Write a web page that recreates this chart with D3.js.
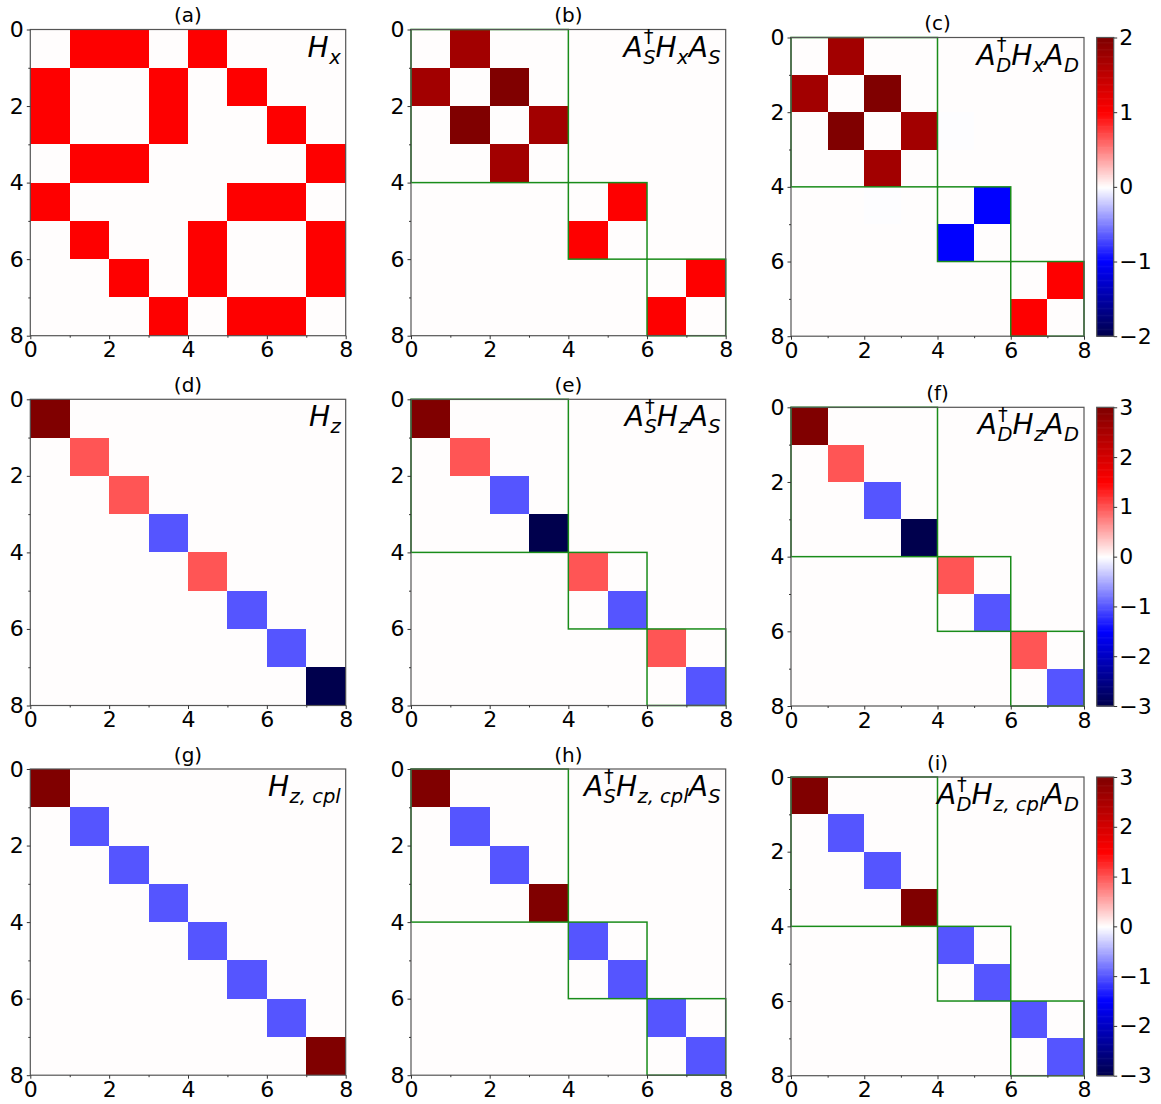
<!DOCTYPE html>
<html>
<head>
<meta charset="utf-8">
<script src="https://cdn.jsdelivr.net/npm/d3@7"></script>
<style>
  body { margin: 0; background: #fff; }
  text { font-family: "DejaVu Sans", sans-serif; fill: #000; }
</style>
</head>
<body>
<svg id="fig" width="1161" height="1104"></svg>
<script>
// matrices (row i, column j)
var hx = [
  [0,1,1,0,1,0,0,0],
  [1,0,0,1,0,1,0,0],
  [1,0,0,1,0,0,1,0],
  [0,1,1,0,0,0,0,1],
  [1,0,0,0,0,1,1,0],
  [0,1,0,0,1,0,0,1],
  [0,0,1,0,1,0,0,1],
  [0,0,0,1,0,1,1,0]
];
var hxS = [
  [0,1.732,0,0,0,0,0,0],
  [1.732,0,2,0,0,0,0,0],
  [0,2,0,1.732,0,0,0,0],
  [0,0,1.732,0,0,0,0,0],
  [0,0,0,0,0,1,0,0],
  [0,0,0,0,1,0,0,0],
  [0,0,0,0,0,0,0,1],
  [0,0,0,0,0,0,1,0]
];
var hxD = [
  [0,1.732,0,0,0,0,0,0],
  [1.732,0,2,0,0,0,0,0],
  [0,2,0,1.732,-0.005,0,0,0],
  [0,0,1.732,0,0,0,0,0],
  [0,0,-0.005,0,0,-1,0,0],
  [0,0,0,0,-1,0,0,0],
  [0,0,0,0,0,0,0,1],
  [0,0,0,0,0,0,1,0]
];
// diagonal-only matrices
var hzDiag   = [3, 1, 1, -1, 1, -1, -1, -3];
var hzSDiag  = [3, 1, -1, -3, 1, -1, 1, -1];
var hzDDiag  = [3, 1, -1, -3, 1, -1, 1, -1];
var hzcDiag  = [3, -1, -1, -1, -1, -1, -1, 3];
var hzcSDiag = [3, -1, -1, 3, -1, -1, -1, -1];
var hzcDDiag = [3, -1, -1, 3, -1, -1, -1, -1];

var blocks = [[0,4],[4,6],[6,8]];
var majorTicks = [0,2,4,6,8];
var minorTicks = [1,3,5,7];
var cbTicksX = [-2,-1,0,1,2];
var cbTicksZ = [-3,-2,-1,0,1,2,3];
var titles = ["(a)","(b)","(c)","(d)","(e)","(f)","(g)","(h)","(i)"];
// label tokens: [base, subscript, superscript]
var labels = [
  [["H","x"]],
  [["A","S","\u2020"],["H","x"],["A","S"]],
  [["A","D","\u2020"],["H","x"],["A","D"]],
  [["H","z"]],
  [["A","S","\u2020"],["H","z"],["A","S"]],
  [["A","D","\u2020"],["H","z"],["A","D"]],
  [["H","z, cpl"]],
  [["A","S","\u2020"],["H","z, cpl"],["A","S"]],
  [["A","D","\u2020"],["H","z, cpl"],["A","D"]]
];

function diag(d) {
  return d.map((v, i) => d.map((_, j) => i === j ? v : 0));
}

var mats = [hx, hxS, hxD, diag(hzDiag), diag(hzSDiag), diag(hzDDiag),
            diag(hzcDiag), diag(hzcSDiag), diag(hzcDDiag)];
var limits = [2, 3, 3];

// seismic colormap, 256 levels like matplotlib
var seis = d3.scaleLinear()
  .domain([0, 0.25, 0.5, 0.75, 1])
  .range(["#00004d", "#0000ff", "#ffffff", "#ff0000", "#800000"]);
function colorOf(v, lim) {
  var idx = Math.floor((v + lim) / (2 * lim) * 256);
  idx = Math.max(0, Math.min(255, idx));
  return seis(idx / 255);
}

var svg = d3.select("#fig");
var COLS = [{x: 30.3, w: 315.4}, {x: 411, w: 314.7}, {x: 791, w: 293}];
var ROWS = [29.5, 399.3, 769];
var PH = 306.2;
var TICK_FS = 22, LAB_FS = 28, SUB_FS = 19.5, TITLE_FS = 20;

// measure a string at a given size/style
function measure(str, size, italic) {
  var t = svg.append("text").attr("font-size", size)
    .attr("font-style", italic ? "italic" : "normal").text(str);
  var w = t.node().getComputedTextLength();
  t.remove();
  return w;
}

// math-like label as one text with positioned tspans, right aligned
function drawLabel(g, tokens, xRight, yBase) {
  var parts = [];
  var x = 0;
  tokens.forEach(function(tk) {
    parts.push({s: tk[0], x: x, dy: 0, fs: LAB_FS, it: true});
    x += measure(tk[0], LAB_FS, true);
    var ws = 0, wp = 0;
    if (tk[1]) {
      parts.push({s: tk[1], x: x + 0.5, dy: 7, fs: SUB_FS, it: true});
      ws = measure(tk[1], SUB_FS, true) + 0.5;
    }
    if (tk[2]) {
      parts.push({s: tk[2], x: x + 1, dy: -13.5, fs: SUB_FS, it: false});
      wp = measure(tk[2], SUB_FS, false) + 1;
    }
    x += Math.max(ws, wp);
  });
  var off = xRight - x;
  g.append("text").selectAll("tspan").data(parts).enter().append("tspan")
    .attr("x", d => off + d.x)
    .attr("y", d => yBase + d.dy)
    .attr("font-size", d => d.fs)
    .attr("font-style", d => d.it ? "italic" : "normal")
    .text(d => d.s);
}

mats.forEach(function(m, k) {
  var r = Math.floor(k / 3), c = k % 3;
  var lim = limits[r];
  var left = COLS[c].x, w = COLS[c].w;
  var top = ROWS[r], h = PH;
  if (c === 2) { top += 8; h = PH - 7.5; }

  var x = d3.scaleLinear().domain([0, 8]).range([0, w]);
  var y = d3.scaleLinear().domain([0, 8]).range([0, h]);

  var g = svg.append("g").attr("transform", "translate(" + left + "," + top + ")");

  var cells = [];
  m.forEach((row, i) => row.forEach((v, j) => cells.push({i: i, j: j, v: v})));
  g.selectAll("rect.cell").data(cells).enter().append("rect")
    .attr("class", "cell")
    .attr("x", d => x(d.j))
    .attr("y", d => y(d.i))
    .attr("width", d => x(d.j + 1) - x(d.j))
    .attr("height", d => y(d.i + 1) - y(d.i))
    .attr("fill", d => colorOf(d.v, lim))
    .attr("shape-rendering", "crispEdges");

  if (c > 0) {
    g.selectAll("rect.blk").data(blocks).enter().append("rect")
      .attr("class", "blk")
      .attr("x", d => x(d[0]))
      .attr("y", d => y(d[0]))
      .attr("width", d => x(d[1]) - x(d[0]))
      .attr("height", d => y(d[1]) - y(d[0]))
      .attr("fill", "none")
      .attr("stroke", "#1a8c1a")
      .attr("stroke-width", 1.5);
  }

  // frame
  g.append("rect").attr("width", w).attr("height", h)
    .attr("fill", "none").attr("stroke", "#555").attr("stroke-width", 1.2);

  var ax = g.append("g").attr("transform", "translate(0," + h + ")")
    .call(d3.axisBottom(x).tickValues(majorTicks).tickSize(3.5).tickPadding(2.5));
  var axm = g.append("g").attr("transform", "translate(0," + h + ")")
    .call(d3.axisBottom(x).tickValues(minorTicks).tickSize(2).tickFormat(""));
  var ay = g.append("g")
    .call(d3.axisLeft(y).tickValues(majorTicks).tickSize(3.5).tickPadding(3));
  var aym = g.append("g")
    .call(d3.axisLeft(y).tickValues(minorTicks).tickSize(2).tickFormat(""));
  [ax, axm, ay, aym].forEach(function(a) {
    a.select(".domain").remove();
    a.selectAll("line").attr("stroke", "#333").attr("stroke-width", 1);
    a.selectAll("text").attr("font-size", TICK_FS).attr("font-family", "DejaVu Sans").attr("fill", "#000");
  });

  g.append("text").attr("x", w / 2).attr("y", -7.5)
    .attr("text-anchor", "middle").attr("font-size", TITLE_FS).text(titles[k]);

  drawLabel(g, labels[k], w - 5, 27);

  // colorbar at the end of each row
  if (c === 2) {
    var cbx = 1096.7, cbw = 17;
    var cs = d3.scaleLinear().domain([-lim, lim]).range([h, 0]);
    var cg = svg.append("g").attr("transform", "translate(" + cbx + "," + top + ")");
    var steps = d3.range(256);
    cg.selectAll("rect.cb").data(steps).enter().append("rect")
      .attr("class", "cb")
      .attr("x", 0)
      .attr("width", cbw)
      .attr("y", d => cs(-lim + (d + 1) * 2 * lim / 256))
      .attr("height", h / 256 + 0.6)
      .attr("fill", d => seis(d / 255));
    cg.append("rect").attr("width", cbw).attr("height", h)
      .attr("fill", "none").attr("stroke", "#555").attr("stroke-width", 1.2);
    var ca = cg.append("g").attr("transform", "translate(" + cbw + ",0)")
      .call(d3.axisRight(cs).tickValues(r === 0 ? cbTicksX : cbTicksZ)
        .tickSize(3.5).tickPadding(2)
        .tickFormat(d => d < 0 ? "\u2212" + Math.abs(d) : String(d)));
    ca.select(".domain").remove();
    ca.selectAll("line").attr("stroke", "#333");
    ca.selectAll("text").attr("font-size", TICK_FS).attr("font-family", "DejaVu Sans").attr("fill", "#000");
  }
});
</script>
</body>
</html>
